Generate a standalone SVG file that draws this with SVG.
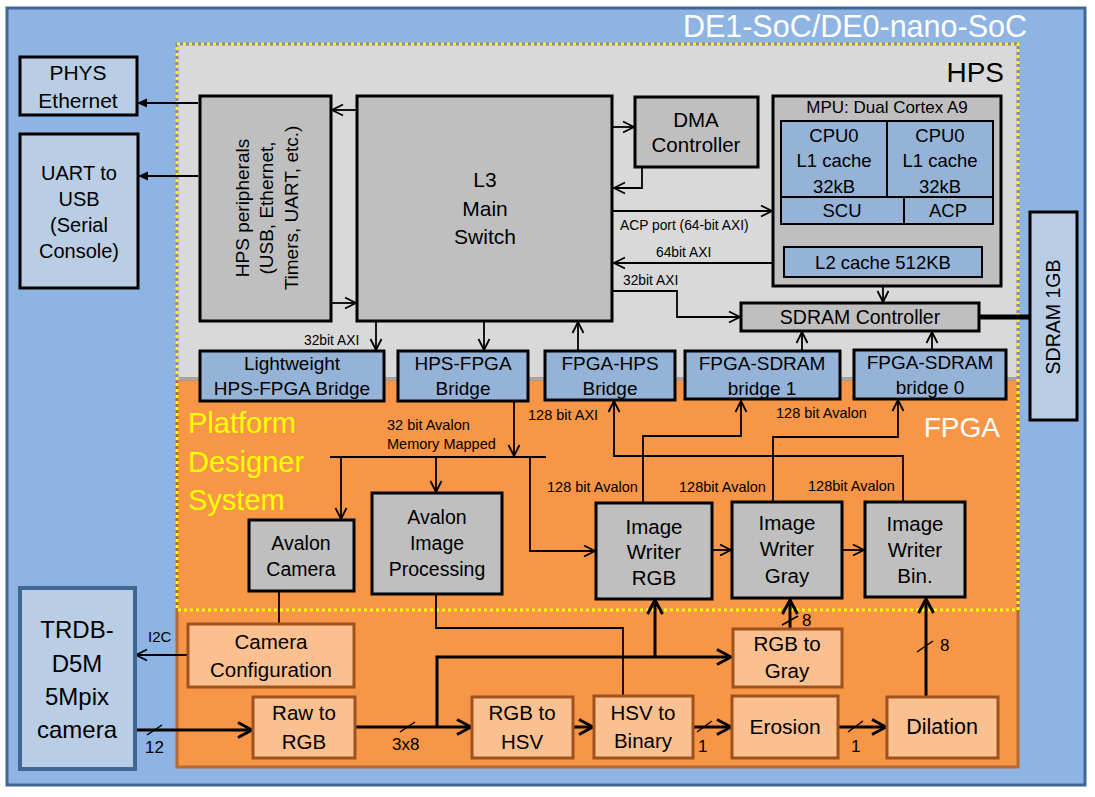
<svg xmlns="http://www.w3.org/2000/svg" width="1095" height="797" viewBox="0 0 1095 797">
<defs>
<style>
text{font-family:"Liberation Sans",Arial,sans-serif;fill:#000}
.c{text-anchor:middle}
.gb{fill:#BFBFBF;stroke:#000;stroke-width:3}
.bb{fill:#95B3D7;stroke:#000;stroke-width:3}
.cb{fill:#95B3D7;stroke:#000;stroke-width:2}
.lb{fill:#B9CDE5;stroke:#000;stroke-width:3}
.ob{fill:#FAC090;stroke:#A0521E;stroke-width:3}
.ln{fill:none;stroke:#000;stroke-width:1.8}
.th{fill:none;stroke:#000;stroke-width:3}
.sl{fill:none;stroke:#000;stroke-width:1.5}
.s13{font-size:13.8px}
.s14{font-size:14.5px}
.s17{font-size:17px}
</style>
<marker id="a" viewBox="0 0 14 14" refX="12" refY="7" markerWidth="14" markerHeight="14" markerUnits="userSpaceOnUse" orient="auto"><path d="M1,1.5 L12,7 L1,12.5" fill="none" stroke="#000" stroke-width="1.8"/></marker>
<marker id="t" viewBox="0 0 18 18" refX="15" refY="9" markerWidth="18" markerHeight="18" markerUnits="userSpaceOnUse" orient="auto"><path d="M1,1.5 L15,9 L1,16.5" fill="none" stroke="#000" stroke-width="3"/></marker>
<marker id="f" viewBox="0 0 10 10" refX="10" refY="5" markerWidth="10" markerHeight="10" markerUnits="userSpaceOnUse" orient="auto"><path d="M0,0.5 L10,5 L0,9.5 z" fill="#000"/></marker>
</defs>

<g id="background">
<rect x="7" y="8" width="1078" height="777" fill="#8EB4E3" stroke="#3F6794" stroke-width="3"/>
<text x="1027" y="37" text-anchor="end" style="font-size:30.5px;fill:#fff">DE1-SoC/DE0-nano-SoC</text>
<rect x="177" y="44" width="841" height="335" fill="#D9D9D9" stroke="#8C8C8C" stroke-width="3"/>
<rect x="177" y="379" width="841" height="388" fill="#F79646" stroke="#B46A30" stroke-width="3"/>
<line x1="177" y1="379" x2="1018" y2="379" stroke="#A6A6A6" stroke-width="3"/>
<rect x="177" y="44" width="841" height="566" fill="none" stroke="#FFFF00" stroke-width="3" stroke-dasharray="3 3"/>
<text x="1004" y="82" text-anchor="end" style="font-size:28px">HPS</text>
<text x="1000" y="437" text-anchor="end" style="font-size:28px;fill:#fff">FPGA</text>
<text x="188" y="433" style="font-size:29px;fill:#FFFF00">Platform</text>
<text x="188" y="472" style="font-size:29px;fill:#FFFF00">Designer</text>
<text x="188" y="510" style="font-size:29px;fill:#FFFF00">System</text>
</g>

<g id="connectors">
<line class="ln" x1="198" y1="103" x2="137" y2="103" marker-end="url(#f)"/>
<line class="ln" x1="198" y1="176" x2="138" y2="176" marker-end="url(#f)"/>
<line class="ln" x1="357" y1="110" x2="332" y2="110" marker-end="url(#a)"/>
<line class="ln" x1="331" y1="303" x2="356" y2="303" marker-end="url(#a)"/>
<line class="ln" x1="612" y1="127" x2="634" y2="127" marker-end="url(#a)"/>
<polyline class="ln" points="642,167 642,188 614,188" marker-end="url(#a)"/>
<line class="ln" x1="612" y1="211" x2="772" y2="211" marker-end="url(#a)"/>
<line class="ln" x1="883" y1="224" x2="883" y2="246" marker-end="url(#a)"/>
<line class="ln" x1="784" y1="263" x2="614" y2="263" marker-end="url(#a)"/>
<polyline class="ln" points="612,291 677,291 677,317 740,317" marker-end="url(#a)"/>
<line class="ln" x1="883" y1="277" x2="883" y2="302" marker-end="url(#a)"/>
<line x1="979" y1="317" x2="1030" y2="317" stroke="#000" stroke-width="5"/>
<line class="ln" x1="376" y1="321" x2="376" y2="350" marker-end="url(#a)"/>
<line class="ln" x1="484" y1="321" x2="484" y2="350" marker-end="url(#a)"/>
<line class="ln" x1="578" y1="351" x2="578" y2="322" marker-end="url(#a)"/>
<line class="ln" x1="802" y1="351" x2="802" y2="332" marker-end="url(#a)"/>
<line class="ln" x1="932" y1="350" x2="932" y2="332" marker-end="url(#a)"/>
<line class="ln" x1="514" y1="401" x2="514" y2="456" marker-end="url(#a)"/>
<line class="ln" x1="330" y1="457" x2="546" y2="457"/>
<line class="ln" x1="341" y1="457" x2="341" y2="519" marker-end="url(#a)"/>
<line class="ln" x1="436" y1="457" x2="436" y2="492" marker-end="url(#a)"/>
<polyline class="ln" points="530,457 530,551 595,551" marker-end="url(#a)"/>
<line class="ln" x1="712" y1="550" x2="731" y2="550" marker-end="url(#a)"/>
<line class="ln" x1="842" y1="550" x2="864" y2="550" marker-end="url(#a)"/>
<polyline class="ln" points="643,503 643,436 741,436 741,401" marker-end="url(#a)"/>
<polyline class="ln" points="773,502 773,437 898,437 898,400" marker-end="url(#a)"/>
<polyline class="ln" points="903,502 903,456 614,456 614,401" marker-end="url(#a)"/>
<line class="ln" x1="279" y1="591" x2="279" y2="624"/>
<polyline class="ln" points="436,594 436,628 623,628 623,695"/>
<line class="ln" x1="188" y1="655" x2="136" y2="655" marker-end="url(#a)"/>
<line class="th" x1="135" y1="730" x2="252" y2="730" marker-end="url(#t)"/>
<line class="sl" x1="147" y1="735" x2="162" y2="725"/>
<line class="th" x1="355" y1="727" x2="471" y2="727" marker-end="url(#t)"/>
<line class="sl" x1="400" y1="732" x2="415" y2="722"/>
<polyline class="th" points="437,727 437,657 731,657" marker-end="url(#t)"/>
<line class="th" x1="655" y1="657" x2="655" y2="600" marker-end="url(#t)"/>
<line class="th" x1="573" y1="727" x2="593" y2="727" marker-end="url(#t)"/>
<line class="th" x1="693" y1="727" x2="731" y2="727" marker-end="url(#t)"/>
<line class="sl" x1="697" y1="732" x2="712" y2="721"/>
<line class="th" x1="838" y1="727" x2="886" y2="727" marker-end="url(#t)"/>
<line class="sl" x1="848" y1="732" x2="863" y2="721"/>
<line class="th" x1="790" y1="629" x2="790" y2="600" marker-end="url(#t)"/>
<line class="sl" x1="782" y1="625" x2="798" y2="616"/>
<line class="th" x1="926" y1="697" x2="926" y2="599" marker-end="url(#t)"/>
<line class="sl" x1="917" y1="652" x2="933" y2="641"/>
</g>

<g id="connector-labels">
<text class="s13" x="304" y="345">32bit AXI</text>
<text class="s13" x="620" y="230">ACP port (64-bit AXI)</text>
<text class="s13" x="656" y="257">64bit AXI</text>
<text class="s13" x="623" y="285">32bit AXI</text>
<text class="s14" x="387" y="430">32 bit Avalon</text>
<text class="s14" x="387" y="449">Memory Mapped</text>
<text class="s14" x="528" y="420">128 bit AXI</text>
<text class="s14" x="776" y="418">128 bit Avalon</text>
<text class="s14" x="547" y="492">128 bit Avalon</text>
<text class="s14" x="679" y="492">128bit Avalon</text>
<text class="s14" x="808" y="491">128bit Avalon</text>
<text x="148" y="642" style="font-size:15px">I2C</text>
<text class="s17" x="145" y="753">12</text>
<text class="s17" x="392" y="750">3x8</text>
<text class="s17" x="698" y="752">1</text>
<text class="s17" x="851" y="752">1</text>
<text class="s17" x="802" y="626">8</text>
<text class="s17" x="940" y="651">8</text>
</g>

<g id="phys-ethernet">
<rect class="lb" x="20" y="57" width="117" height="58"/>
<text class="c" x="78" y="80" style="font-size:21px">PHYS</text>
<text class="c" x="78" y="108" style="font-size:21px">Ethernet</text>
</g>
<g id="uart-usb">
<rect class="lb" x="20" y="134" width="118" height="154"/>
<text class="c" x="79" y="180" style="font-size:20px">UART to</text>
<text class="c" x="79" y="206" style="font-size:20px">USB</text>
<text class="c" x="79" y="232" style="font-size:20px">(Serial</text>
<text class="c" x="79" y="258" style="font-size:20px">Console)</text>
</g>
<g id="hps-peripherals">
<rect class="gb" x="200" y="96" width="131" height="225"/>
<g style="font-size:19px">
<text class="c" transform="translate(249,208) rotate(-90)">HPS peripherals</text>
<text class="c" transform="translate(273,208) rotate(-90)">(USB, Ethernet,</text>
<text class="c" transform="translate(298,208) rotate(-90)">Timers, UART, etc.)</text>
</g>
</g>
<g id="l3-switch">
<rect class="gb" x="357" y="96" width="255" height="225"/>
<text class="c" x="485" y="187" style="font-size:21px">L3</text>
<text class="c" x="485" y="216" style="font-size:21px">Main</text>
<text class="c" x="485" y="244" style="font-size:21px">Switch</text>
</g>
<g id="dma">
<rect class="gb" x="635" y="97" width="123" height="70"/>
<text class="c" x="696" y="127" style="font-size:20.5px">DMA</text>
<text class="c" x="696" y="152" style="font-size:20.5px">Controller</text>
</g>
<g id="mpu">
<rect class="gb" x="773" y="96" width="228" height="190"/>
<text class="c" x="887" y="113" style="font-size:17px">MPU: Dual Cortex A9</text>
<rect class="cb" x="781" y="121" width="106" height="76"/>
<rect class="cb" x="887" y="121" width="106" height="76"/>
<rect class="cb" x="781" y="197" width="123" height="27"/>
<rect class="cb" x="904" y="197" width="89" height="27"/>
<g style="font-size:18.5px">
<text class="c" x="834" y="142">CPU0</text>
<text class="c" x="834" y="167">L1 cache</text>
<text class="c" x="834" y="193">32kB</text>
<text class="c" x="940" y="142">CPU0</text>
<text class="c" x="940" y="167">L1 cache</text>
<text class="c" x="940" y="193">32kB</text>
<text class="c" x="842" y="217">SCU</text>
<text class="c" x="948" y="217">ACP</text>
</g>
<rect class="cb" x="784" y="247" width="198" height="30"/>
<text class="c" x="883" y="269" style="font-size:18.5px">L2 cache 512KB</text>
</g>
<g id="sdram-controller">
<rect class="gb" x="741" y="303" width="238" height="28"/>
<text class="c" x="860" y="324" style="font-size:19.5px">SDRAM Controller</text>
</g>
<g id="sdram-1gb">
<rect class="lb" x="1030" y="212" width="47" height="208"/>
<text class="c" transform="translate(1060,317) rotate(-90)" style="font-size:19.5px">SDRAM 1GB</text>
</g>
<g id="lw-bridge">
<rect class="bb" x="200" y="351" width="184" height="50"/>
<text class="c" x="292" y="370" style="font-size:19px">Lightweight</text>
<text class="c" x="292" y="395" style="font-size:19px">HPS-FPGA Bridge</text>
</g>
<g id="hps-fpga-bridge">
<rect class="bb" x="398" y="351" width="130" height="50"/>
<text class="c" x="463" y="370" style="font-size:19px">HPS-FPGA</text>
<text class="c" x="463" y="395" style="font-size:19px">Bridge</text>
</g>
<g id="fpga-hps-bridge">
<rect class="bb" x="545" y="351" width="130" height="49"/>
<text class="c" x="610" y="370" style="font-size:19px">FPGA-HPS</text>
<text class="c" x="610" y="395" style="font-size:19px">Bridge</text>
</g>
<g id="fpga-sdram-bridge1">
<rect class="bb" x="685" y="351" width="155" height="48"/>
<text class="c" x="762" y="370" style="font-size:19px">FPGA-SDRAM</text>
<text class="c" x="762" y="395" style="font-size:19px">bridge 1</text>
</g>
<g id="fpga-sdram-bridge0">
<rect class="bb" x="854" y="350" width="152" height="49"/>
<text class="c" x="930" y="369" style="font-size:19px">FPGA-SDRAM</text>
<text class="c" x="930" y="394" style="font-size:19px">bridge 0</text>
</g>
<g id="avalon-camera">
<rect class="gb" x="249" y="520" width="105" height="71"/>
<text class="c" x="301" y="550" style="font-size:19.5px">Avalon</text>
<text class="c" x="301" y="576" style="font-size:19.5px">Camera</text>
</g>
<g id="avalon-image-processing">
<rect class="gb" x="372" y="493" width="130" height="101"/>
<text class="c" x="437" y="524" style="font-size:19.5px">Avalon</text>
<text class="c" x="437" y="550" style="font-size:19.5px">Image</text>
<text class="c" x="437" y="576" style="font-size:19.5px">Processing</text>
</g>
<g id="image-writer-rgb">
<rect class="gb" x="596" y="503" width="116" height="96"/>
<text class="c" x="654" y="534" style="font-size:20.5px">Image</text>
<text class="c" x="654" y="559" style="font-size:20.5px">Writer</text>
<text class="c" x="654" y="585" style="font-size:20.5px">RGB</text>
</g>
<g id="image-writer-gray">
<rect class="gb" x="732" y="502" width="110" height="96"/>
<text class="c" x="787" y="530" style="font-size:20.5px">Image</text>
<text class="c" x="787" y="556" style="font-size:20.5px">Writer</text>
<text class="c" x="787" y="583" style="font-size:20.5px">Gray</text>
</g>
<g id="image-writer-bin">
<rect class="gb" x="865" y="502" width="100" height="95"/>
<text class="c" x="915" y="531" style="font-size:20.5px">Image</text>
<text class="c" x="915" y="557" style="font-size:20.5px">Writer</text>
<text class="c" x="915" y="583" style="font-size:20.5px">Bin.</text>
</g>
<g id="trdb-camera">
<rect x="20" y="588" width="115" height="181" fill="#B9CDE5" stroke="#3F6794" stroke-width="4"/>
<text class="c" x="77" y="638" style="font-size:24px">TRDB-</text>
<text class="c" x="77" y="672" style="font-size:24px">D5M</text>
<text class="c" x="77" y="705" style="font-size:24px">5Mpix</text>
<text class="c" x="77" y="738" style="font-size:24px">camera</text>
</g>
<g id="camera-configuration">
<rect class="ob" x="188" y="624" width="166" height="63"/>
<text class="c" x="271" y="649" style="font-size:20.5px">Camera</text>
<text class="c" x="271" y="677" style="font-size:20.5px">Configuration</text>
</g>
<g id="raw-to-rgb">
<rect class="ob" x="253" y="697" width="102" height="61"/>
<text class="c" x="304" y="720" style="font-size:20.5px">Raw to</text>
<text class="c" x="304" y="749" style="font-size:20.5px">RGB</text>
</g>
<g id="rgb-to-hsv">
<rect class="ob" x="472" y="697" width="101" height="61"/>
<text class="c" x="522" y="720" style="font-size:20.5px">RGB to</text>
<text class="c" x="522" y="749" style="font-size:20.5px">HSV</text>
</g>
<g id="hsv-to-binary">
<rect class="ob" x="594" y="696" width="99" height="62"/>
<text class="c" x="643" y="720" style="font-size:20.5px">HSV to</text>
<text class="c" x="643" y="748" style="font-size:20.5px">Binary</text>
</g>
<g id="erosion">
<rect class="ob" x="732" y="696" width="106" height="62"/>
<text class="c" x="785" y="734" style="font-size:21px">Erosion</text>
</g>
<g id="dilation">
<rect class="ob" x="887" y="697" width="111" height="61"/>
<text class="c" x="942" y="734" style="font-size:21.5px">Dilation</text>
</g>
<g id="rgb-to-gray">
<rect class="ob" x="733" y="629" width="109" height="58"/>
<text class="c" x="787" y="651" style="font-size:20.5px">RGB to</text>
<text class="c" x="787" y="678" style="font-size:20.5px">Gray</text>
</g>
</svg>
